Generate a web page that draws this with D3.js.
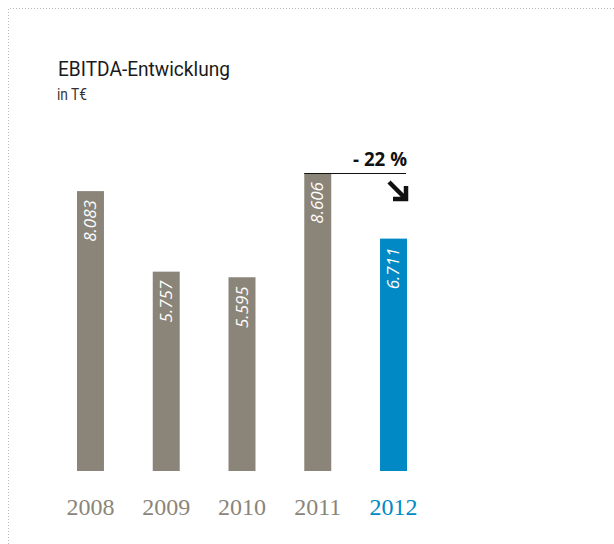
<!DOCTYPE html>
<html>
<head>
<meta charset="utf-8">
<script src="https://cdn.jsdelivr.net/npm/d3@7"></script>
<style>
  body { margin: 0; background: #fff; }
</style>
</head>
<body>
<div id="chart"></div>
<script>
// EBITDA in T€
const years = ["2008", "2009", "2010", "2011", "2012"];
const ebitda = [8083, 5757, 5595, 8606, 6711];
const valueLabels = ["8.083", "5.757", "5.595", "8.606", "6.711"];
const changeLabel = "- 22 %";

const width = 614, height = 544;
const grey = "#8b8579", blue = "#0089c4";

const svg = d3.select("#chart")
  .append("svg")
  .attr("width", width)
  .attr("height", height);

// dotted frame
svg.append("path")
  .attr("d", `M8.5,${height} L8.5,8.5 L${width},8.5`)
  .attr("fill", "none")
  .attr("stroke", "#b8b8b8")
  .attr("stroke-width", 1)
  .attr("stroke-dasharray", "1,2");

svg.append("text")
  .attr("x", 58)
  .attr("y", 76)
  .attr("font-family", "Roboto, sans-serif")
  .attr("font-size", 21)
  .attr("fill", "#1a1a1a")
  .attr("textLength", 172)
  .attr("lengthAdjust", "spacingAndGlyphs")
  .text("EBITDA-Entwicklung");

svg.append("text")
  .attr("x", 57)
  .attr("y", 100)
  .attr("font-family", "Roboto, sans-serif")
  .attr("font-size", 16)
  .attr("fill", "#333")
  .attr("textLength", 30)
  .attr("lengthAdjust", "spacingAndGlyphs")
  .text("in T€");

const x = d3.scaleBand()
  .domain(years)
  .range([52.6, 431.4])
  .paddingInner(0.644)
  .paddingOuter(0.322);

const y = d3.scaleLinear()
  .domain([0, d3.max(ebitda)])
  .range([471, 173]);

const colorOf = (i) => i === years.length - 1 ? blue : grey;

const bars = svg.selectAll(".bar")
  .data(years)
  .enter().append("g");

bars.append("rect")
  .attr("x", d => x(d))
  .attr("y", (d, i) => y(ebitda[i]))
  .attr("width", x.bandwidth())
  .attr("height", (d, i) => y(0) - y(ebitda[i]))
  .attr("fill", (d, i) => colorOf(i));

bars.append("text")
  .attr("transform", (d, i) => `translate(${x(d) + x.bandwidth() / 2 + 5.5}, ${y(ebitda[i]) + 9}) rotate(-90)`)
  .attr("text-anchor", "end")
  .attr("font-family", "Open Sans, sans-serif")
  .attr("font-style", "italic")
  .attr("font-size", 17)
  .attr("fill", "#fff")
  .text((d, i) => valueLabels[i]);

// year axis
const axis = svg.append("g")
  .attr("transform", "translate(0, 515)")
  .call(d3.axisBottom(x).tickSize(0).tickPadding(0));
axis.select(".domain").remove();
axis.selectAll("text")
  .attr("dy", 0)
  .attr("font-family", "Liberation Serif, serif")
  .attr("font-size", 24)
  .attr("fill", (d, i) => colorOf(i));

// change annotation
const x0 = x("2011"), x1 = x("2012") + x.bandwidth();
const yTop = y(ebitda[3]);
svg.append("line")
  .attr("x1", x0).attr("x2", x1 - 1)
  .attr("y1", yTop + 0.5).attr("y2", yTop + 0.5)
  .attr("stroke", "#111")
  .attr("stroke-width", 1.2);

svg.append("text")
  .attr("x", x1)
  .attr("y", yTop - 7)
  .attr("text-anchor", "end")
  .attr("font-family", "Open Sans, sans-serif")
  .attr("font-weight", 700)
  .attr("font-size", 19)
  .attr("fill", "#111")
  .attr("textLength", 54)
  .attr("lengthAdjust", "spacingAndGlyphs")
  .text(changeLabel);

const ax = x1 - 1, ay = yTop + 26;
svg.append("path")
  .attr("d", `M${ax - 17},${ay - 17} L${ax - 1},${ay - 1} M${ax - 13},${ay} L${ax},${ay} L${ax},${ay - 13}`)
  .attr("fill", "none")
  .attr("stroke", "#111")
  .attr("stroke-width", 4.5)
  .attr("stroke-linejoin", "miter");
</script>
</body>
</html>
